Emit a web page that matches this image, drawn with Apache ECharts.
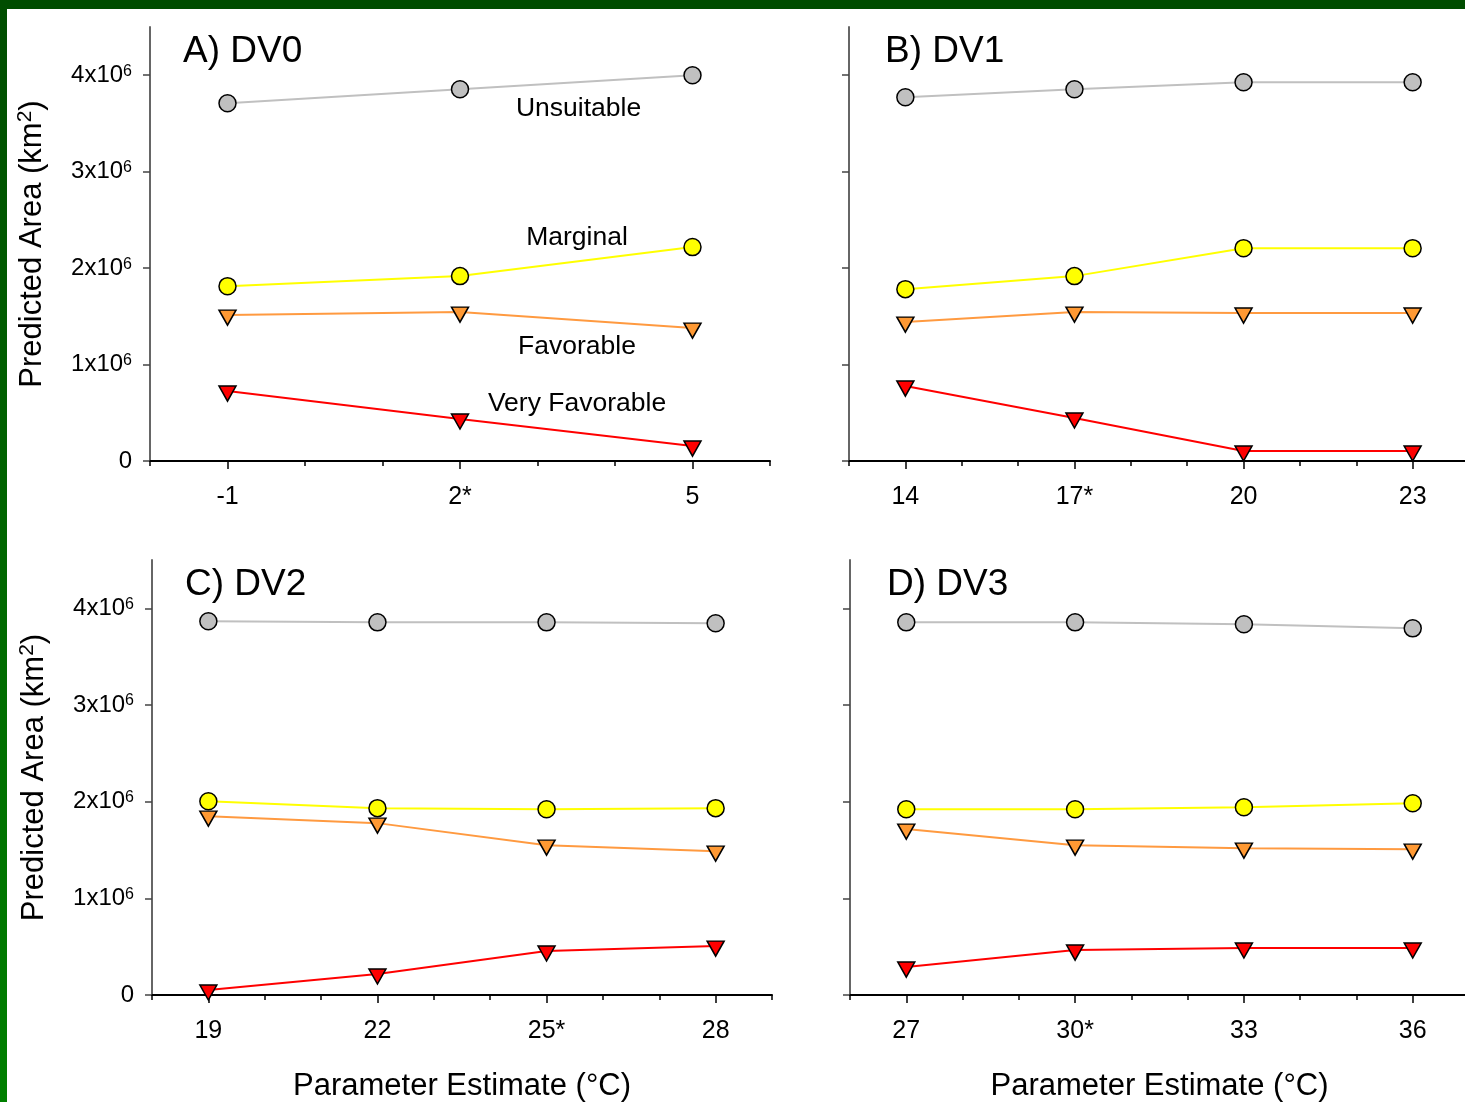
<!DOCTYPE html>
<html><head><meta charset="utf-8">
<script src="https://cdn.jsdelivr.net/npm/echarts@6/dist/echarts.min.js"></script>
<style>
html,body{margin:0;padding:0;background:#fff;overflow:hidden}
#c{width:1465px;height:1102px;position:absolute;left:0;top:0}
#topbar{position:absolute;left:0;top:0;width:1465px;height:9px;background:#004d00;z-index:5}
#leftbar{position:absolute;left:0;top:0;width:7px;height:1102px;background:linear-gradient(#004d00,#008000);z-index:5}
</style></head>
<body><div id="c"></div><div id="topbar"></div><div id="leftbar"></div>
<script>
// ---- data (values in millions of km^2) ----
const panelTitles = ['A) DV0', 'B) DV1', 'C) DV2', 'D) DV3'];
const xA = [-1, 2, 5];        const xLabA = ['-1', '2*', '5'];
const xB = [14, 17, 20, 23];  const xLabB = ['14', '17*', '20', '23'];
const xC = [19, 22, 25, 28];  const xLabC = ['19', '22', '25*', '28'];
const xD = [27, 30, 33, 36];  const xLabD = ['27', '30*', '33', '36'];

const unsuitA = [3.71, 3.855, 4.0];
const marginA = [1.813, 1.917, 2.218];
const favA    = [1.513, 1.544, 1.378];
const vfavA   = [0.725, 0.435, 0.155];

const unsuitB = [3.772, 3.855, 3.927, 3.927];
const marginB = [1.782, 1.917, 2.207, 2.207];
const favB    = [1.44, 1.544, 1.534, 1.534];
const vfavB   = [0.777, 0.446, 0.104, 0.104];

const unsuitC = [3.866, 3.855, 3.855, 3.845];
const marginC = [2.005, 1.933, 1.922, 1.933];
const favC    = [1.85, 1.778, 1.55, 1.488];
const vfavC   = [0.052, 0.217, 0.455, 0.506];

const unsuitD = [3.855, 3.855, 3.835, 3.793];
const marginD = [1.922, 1.922, 1.943, 1.984];
const favD    = [1.716, 1.55, 1.519, 1.509];
const vfavD   = [0.289, 0.465, 0.486, 0.486];

const yTicks = [0, 1, 2, 3, 4];
const classNames = ['Unsuitable', 'Marginal', 'Favorable', 'Very Favorable'];
const classLabelPos = [[3.53, 3.648], [3.51, 2.318], [3.51, 1.185], [3.51, 0.593]];

// ---- layout ----
const FONT = 'Liberation Sans, Arial, Helvetica, sans-serif';
const grids = [
  {left: 150, top: 27, width: 620, height: 434},
  {left: 849, top: 27, width: 620, height: 434},
  {left: 152, top: 560, width: 620, height: 435},
  {left: 850, top: 560, width: 619, height: 435}
];
const ranges = [[-2, 6], [13, 24], [18, 29], [26, 37]];
const panels = [
  {xs: xA, labs: xLabA, s: [unsuitA, marginA, favA, vfavA]},
  {xs: xB, labs: xLabB, s: [unsuitB, marginB, favB, vfavB]},
  {xs: xC, labs: xLabC, s: [unsuitC, marginC, favC, vfavC]},
  {xs: xD, labs: xLabD, s: [unsuitD, marginD, favD, vfavD]}
];
const lineColors = ['#c0c0c0', '#ffff00', '#ff9a40', '#ff0000'];
const fillColors = ['#c0c0c0', '#ffff00', '#ff9933', '#ff0000'];
const TRI = 'path://M0,0L20,0L10,17.32Z';

const xAxis = [], yAxis = [], series = [], title = [];
const titlePos = [[183, 33], [885, 33], [185, 566], [887, 566]];

panels.forEach((p, i) => {
  const [mn, mx] = ranges[i];
  const allTicks = [];
  for (let v = mn; v <= mx; v++) allTicks.push(v);
  const bottom = i >= 2;
  xAxis.push({
    type: 'value', gridIndex: i, position: 'bottom', min: mn, max: mx, interval: 1,
    axisLine: {show: true, onZero: false, lineStyle: {color: '#000', width: 2}},
    axisTick: {show: true, customValues: allTicks, length: 5, lineStyle: {color: '#000', width: 1.5}},
    axisLabel: {show: true, customValues: p.xs, margin: 24, fontFamily: FONT, fontSize: 25, color: '#000',
      formatter: v => { const k = p.xs.indexOf(v); return k >= 0 ? p.labs[k] : ''; }},
    splitLine: {show: false},
    name: bottom ? 'Parameter Estimate (°C)' : '',
    nameLocation: 'middle', nameGap: 76,
    nameTextStyle: {fontFamily: FONT, fontSize: 31, color: '#000'}
  });
  xAxis.push({
    type: 'value', gridIndex: i, position: 'bottom', min: mn, max: mx, interval: 1,
    axisLine: {show: false, onZero: false},
    axisTick: {show: true, customValues: p.xs, length: 8, lineStyle: {color: '#000', width: 1.5}},
    axisLabel: {show: false}, splitLine: {show: false}
  });
  const left = (i % 2 === 0);
  yAxis.push({
    type: 'value', gridIndex: i, position: 'left', min: 0, max: 4.5, interval: 1,
    axisLine: {show: true, onZero: false, lineStyle: {color: '#666', width: 2}},
    axisTick: {show: true, customValues: yTicks, length: 7, lineStyle: {color: '#444', width: 1.5}},
    axisLabel: {show: left, customValues: yTicks, margin: 18, fontFamily: FONT, fontSize: 24, color: '#000',
      formatter: v => v === 0 ? '0' : v + 'x10{s|6}',
      rich: {s: {fontSize: 16, fontFamily: FONT, color: '#000', verticalAlign: 'top', lineHeight: 16}}},
    splitLine: {show: false},
    name: left ? 'Predicted Area (km{s|2})' : '',
    nameLocation: 'middle', nameGap: 101, nameRotate: 90,
    nameTextStyle: {fontFamily: FONT, fontSize: 31, color: '#000', lineHeight: 34,
      rich: {s: {fontSize: 21, fontFamily: FONT, color: '#000', verticalAlign: 'top', lineHeight: 21}}}
  });
  p.s.forEach((vals, k) => {
    const tri = k >= 2;
    series.push({
      type: 'line', name: classNames[k], xAxisIndex: i * 2, yAxisIndex: i,
      data: p.xs.map((x, j) => [x, vals[j]]),
      symbol: tri ? TRI : 'circle',
      symbolSize: tri ? [17, 15] : 17,
      symbolOffset: tri ? [0, 2.5] : [0, 0],
      showAllSymbol: true,
      lineStyle: {color: lineColors[k], width: 2},
      itemStyle: {color: fillColors[k], borderColor: '#000', borderWidth: 1.5},
      z: 2 + k, animation: false
    });
  });
  title.push({
    text: panelTitles[i], left: titlePos[i][0], top: titlePos[i][1],
    textStyle: {fontFamily: FONT, fontSize: 37, fontWeight: 'normal', color: '#000'}, padding: 0
  });
});

series.push({
  type: 'scatter', xAxisIndex: 0, yAxisIndex: 0, symbolSize: 0, silent: true,
  itemStyle: {opacity: 1},
  data: classNames.map((n, k) => ({value: classLabelPos[k], name: n})),
  label: {show: true, position: 'inside', formatter: d => d.name, fontFamily: FONT, fontSize: 26.5,
    color: '#000', opacity: 1, textBorderWidth: 0},
  z: 10, animation: false
});

const chart = echarts.init(document.getElementById('c'), null, {renderer: 'canvas'});
chart.setOption({
  backgroundColor: '#fff',
  animation: false,
  title,
  grid: grids.map(g => Object.assign({containLabel: false, outerBoundsMode: 'none'}, g)),
  xAxis, yAxis, series
});
</script>
</body></html>
